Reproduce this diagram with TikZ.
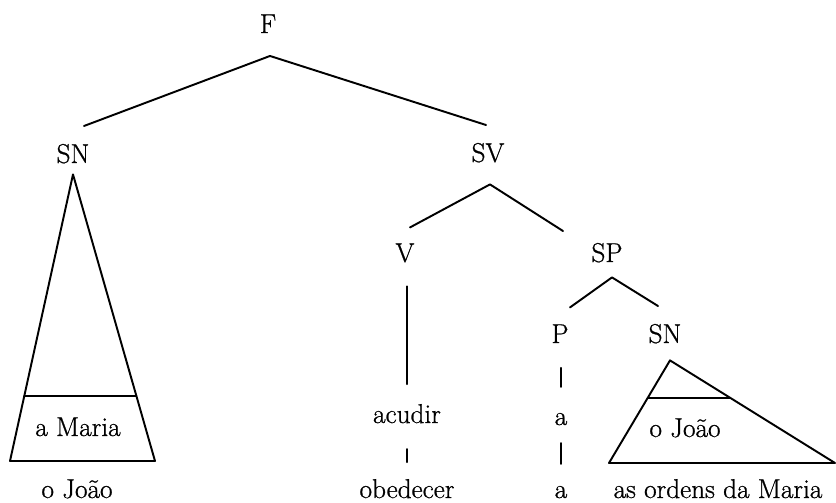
\documentclass[tikz,border=0pt]{standalone}
\usepackage{fontspec}
\setmainfont{Latin Modern Roman}[FakeBold=0.8]
\usetikzlibrary{calc}

\tikzset{
  lab/.style={anchor=base,inner sep=0pt,font=\fontsize{15.5}{18}\selectfont},
}

\begin{document}
\begin{tikzpicture}[x=0.02cm,y=-0.02cm,line width=1.1pt,line cap=round,line join=round]
  \useasboundingbox (0,0) rectangle (836,503);
  % categories
  \node[lab] (F) at (268,33) {F};
  \node[lab] (SNa) at (73,163) {SN};
  \node[lab] (SV) at (488,162) {SV};
  \node[lab] (V) at (405,262) {V};
  \node[lab] (SP) at (607,262) {SP};
  \node[lab] (P) at (560,343) {P};
  \node[lab] (SNb) at (665,343) {SN};
  % words
  \node[lab] (maria) at (78,436) {a Maria};
  \node[lab] (joaoA) at (77,498) {o João};
  \node[lab] (acudir) at (407,423) {acudir};
  \node[lab] (obedecer) at (407,498) {obedecer};
  \node[lab] (prepA) at (561,425) {a};
  \node[lab] (prepB) at (561,498) {a};
  \node[lab] (joaoB) at (685,437) {o João};
  \node[lab] (ordens) at (718,498) {as ordens da Maria};
  % branches
  \draw ([shift={(11,-17)}]SNa.north) -- ([shift={(2,22)}]F.south)
    -- ([shift={(-2,-17)}]SV.north);
  \draw ([shift={(5,-15)}]V.north) -- ([shift={(2,21)}]SV.south)
    -- ([shift={(-44,-11)}]SP.north);
  \draw ([shift={(10,-16)}]P.north) -- ([shift={(5,14)}]SP.south)
    -- ([shift={(-7,-17)}]SNb.north);
  \draw ([shift={(2,23)}]V.south) -- ([shift={(0,-19)}]acudir.north);
  \draw ([shift={(0,25)}]acudir.south) -- ([shift={(0,-16)}]obedecer.north);
  \draw ([shift={(1,24)}]P.south) -- ([shift={(0,-25)}]prepA.north);
  \draw ([shift={(0,17)}]prepA.south) -- ([shift={(0,-21)}]prepB.north);
  % roofs
  \coordinate (ra) at ([shift={(0,10)}]SNa.south);
  \coordinate (ral) at (10,461);
  \coordinate (rar) at (155,461);
  \draw (ra) -- (ral) -- (rar) -- cycle;
  \draw ($(ra)!0.774!(ral)$) -- ($(ra)!0.774!(rar)$);
  \coordinate (rb) at ([shift={(5,16)}]SNb.south);
  \coordinate (rbl) at (609,463);
  \coordinate (rbr) at (835,463);
  \draw (rb) -- (rbl) -- (rbr) -- cycle;
  \draw ($(rb)!0.365!(rbl)$) -- ($(rb)!0.365!(rbr)$);
\end{tikzpicture}
\end{document}
